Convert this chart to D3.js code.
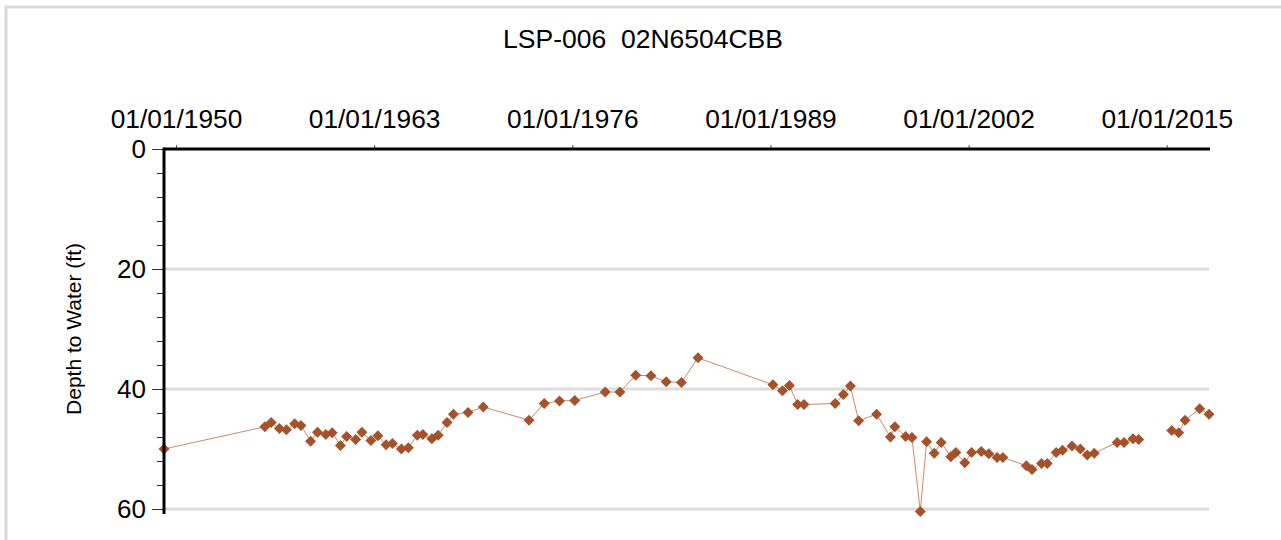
<!DOCTYPE html>
<html>
<head>
<meta charset="utf-8">
<script src="https://cdn.jsdelivr.net/npm/d3@7"></script>
<style>
  body { margin: 0; background: #fff; }
  text { font-family: "Liberation Sans", Arial, sans-serif; fill: #000; }
</style>
</head>
<body>
<div id="chart"></div>
<script>
// Measurement dates and depth to water (ft). null marks the gap in the record.
const dates = [
  "1949-03-20", "1955-11-01", "1956-04-01", "1956-10-15", "1957-04-01", "1957-10-15",
  "1958-03-15", "1958-11-01", "1959-04-15", "1959-11-01", "1960-04-01", "1960-10-15",
  "1961-03-15", "1961-10-15", "1962-03-15", "1962-10-15", "1963-04-01", "1963-10-15",
  "1964-03-15", "1964-10-15", "1965-04-01", "1965-11-01", "1966-03-15", "1966-10-15",
  "1967-03-15", "1967-10-15", "1968-03-15", "1969-03-01", "1970-03-01", "1973-03-01",
  "1974-03-01", "1975-03-01", "1976-03-01", "1978-03-01", "1979-02-15", "1980-03-01",
  "1981-03-01", "1982-03-01", "1983-03-01", "1984-04-01", "1989-03-01", "1989-10-15",
  "1990-04-01", "1990-10-15", "1991-03-15", "1993-04-01", "1993-10-15", "1994-04-01",
  "1994-10-15", "1995-12-20", "1996-11-15", "1997-03-01", "1997-11-15", "1998-04-15",
  "1998-11-01", "1999-04-01", "1999-10-01", "2000-03-15", "2000-11-01", "2001-03-01",
  "2001-10-01", "2002-03-15", "2002-11-01", "2003-05-01", "2003-11-15", "2004-04-01",
  "2005-10-15", "2006-03-01", "2006-10-15", "2007-03-01", "2007-10-01", "2008-03-01",
  "2008-10-15", "2009-05-01", "2009-10-15", "2010-04-01", "2011-10-01", "2012-03-15",
  "2012-10-15", "2013-03-01", "2014-04-01", "2015-05-01", "2015-10-15", "2016-03-15",
  "2017-03-01", "2017-10-10"
];
const depths = [
  50.0, 46.3, 45.6, 46.6, 46.8, 45.8,
  46.1, 48.7, 47.2, 47.6, 47.3, 49.4,
  47.9, 48.4, 47.2, 48.6, 47.8, 49.3,
  49.1, 50.0, 49.8, 47.7, 47.6, 48.3,
  47.7, 45.6, 44.2, 43.9, 43.0, 45.2,
  42.4, 42.0, 41.9, 40.5, 40.5, 37.7,
  37.8, 38.8, 38.9, 34.8, 39.3, 40.3,
  39.4, 42.6, 42.6, 42.4, 40.9, 39.5,
  45.3, 44.2, 48.0, 46.3, 47.9, 48.1,
  60.4, 48.8, 50.7, 48.9, 51.3, 50.6,
  52.3, 50.6, 50.4, 50.8, 51.4, 51.4,
  52.8, 53.4, 52.4, 52.4, 50.6, 50.2,
  49.5, 50.0, 51.0, 50.7, 48.9, 48.9,
  48.3, 48.4, null, 46.9, 47.3, 45.2,
  43.3, 44.2
];
const xTickLabels = ["1950-01-01", "1963-01-01", "1976-01-01", "1989-01-01", "2002-01-01", "2015-01-01"];
const yTicks = [0, 20, 40, 60];
const title = "LSP-006\u00a0\u00a002N6504CBB";
const yLabel = "Depth to Water (ft)";

const width = 1281, height = 540;
const plot = { left: 164, right: 1209, top: 149, bottom: 509 };

const parse = d3.timeParse("%Y-%m-%d");
const data = dates.map((d, i) => ({ date: parse(d), depth: depths[i] }));
const measured = data.filter((d) => d.depth != null);

const x = d3.scaleTime()
  .domain(d3.extent(measured, (d) => d.date))
  .range([plot.left, plot.right]);
const y = d3.scaleLinear().domain([0, 60]).range([plot.top, plot.bottom]);

const svg = d3.select("#chart").append("svg")
  .attr("width", width)
  .attr("height", height);

// outer frame (only top and left edges fall inside the picture)
svg.append("rect")
  .attr("x", 6).attr("y", 7)
  .attr("width", 1400).attr("height", 700)
  .attr("fill", "none")
  .attr("stroke", "#d9d9d9")
  .attr("stroke-width", 3);

// title
svg.append("text")
  .attr("x", 643).attr("y", 48)
  .attr("text-anchor", "middle")
  .style("font-size", "26.5px")
  .text(title);

// horizontal grid lines
svg.append("g")
  .selectAll("line")
  .data(yTicks.filter((t) => t > 0))
  .join("line")
  .attr("x1", plot.left).attr("x2", plot.right)
  .attr("y1", (d) => y(d)).attr("y2", (d) => y(d))
  .attr("stroke", "#dcdcdc")
  .attr("stroke-width", 3);

// data line with a gap where depth is missing
const line = d3.line()
  .defined((d) => d.depth != null)
  .x((d) => x(d.date))
  .y((d) => y(d.depth));

svg.append("path")
  .datum(data)
  .attr("d", line)
  .attr("fill", "none")
  .attr("stroke", "#c88a6c")
  .attr("stroke-width", 1);

// diamond markers
svg.append("g")
  .selectAll("path")
  .data(measured)
  .join("path")
  .attr("d", d3.symbol(d3.symbolSquare, 60))
  .attr("transform", (d) => `translate(${x(d.date)},${y(d.depth)}) rotate(45)`)
  .attr("fill", "#a3522c");

// minor y ticks
svg.append("g")
  .attr("transform", `translate(${plot.left},0)`)
  .call(d3.axisLeft(y).tickValues(d3.range(0, 61, 4)).tickSize(7).tickFormat(""))
  .call((g) => g.select(".domain").remove())
  .call((g) => g.selectAll("line").attr("stroke", "#333"));

// major y ticks and labels
svg.append("g")
  .attr("transform", `translate(${plot.left},0)`)
  .call(d3.axisLeft(y).tickValues(yTicks).tickSize(12).tickPadding(6))
  .call((g) => g.select(".domain").remove())
  .call((g) => g.selectAll("line").attr("stroke", "#333"))
  .call((g) => g.selectAll("text")
    .style("font-size", "26px")
    .style("font-family", '"Liberation Sans", Arial, sans-serif')
    .attr("fill", "#000"));

// top date axis
svg.append("g")
  .attr("transform", `translate(0,${plot.top})`)
  .call(d3.axisTop(x)
    .tickValues(xTickLabels.map(parse))
    .tickFormat(d3.timeFormat("%m/%d/%Y"))
    .tickSize(4)
    .tickPadding(17))
  .call((g) => g.select(".domain").remove())
  .call((g) => g.selectAll("line").attr("stroke", "#555"))
  .call((g) => g.selectAll("text")
    .style("font-size", "26.3px")
    .style("font-family", '"Liberation Sans", Arial, sans-serif')
    .attr("fill", "#000"));

// axis lines
svg.append("line")
  .attr("x1", plot.left).attr("x2", plot.right + 1)
  .attr("y1", plot.top).attr("y2", plot.top)
  .attr("stroke", "#000").attr("stroke-width", 3);
svg.append("line")
  .attr("x1", plot.left).attr("x2", plot.left)
  .attr("y1", plot.top - 1.5).attr("y2", plot.bottom + 5)
  .attr("stroke", "#000").attr("stroke-width", 3);

// y axis title
svg.append("text")
  .attr("transform", `translate(81,${(plot.top + plot.bottom) / 2}) rotate(-90)`)
  .attr("text-anchor", "middle")
  .style("font-size", "21px")
  .text(yLabel);
</script>
</body>
</html>
